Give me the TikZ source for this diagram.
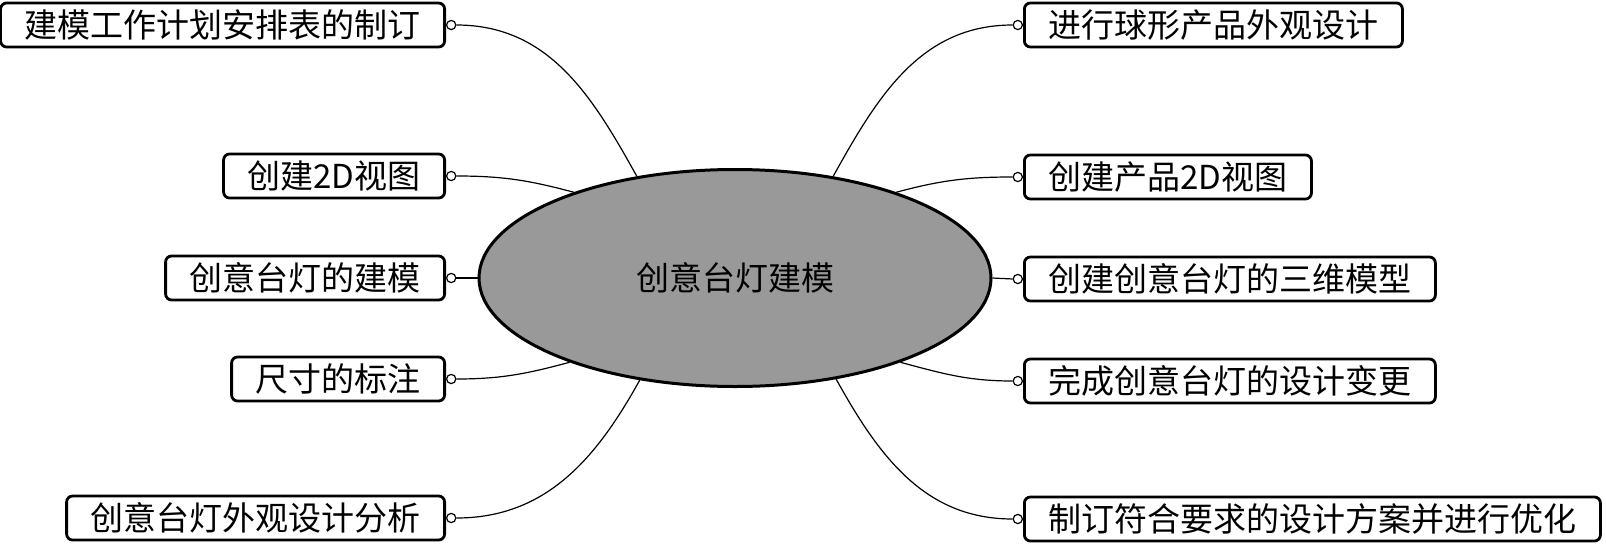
\documentclass[tikz,border=0pt]{standalone}
\usepackage{fontspec}
\newfontfamily\cjk{Noto Sans CJK SC}
\usetikzlibrary{positioning,shapes.geometric}

\begin{document}
\begin{tikzpicture}[
            x=0.5pt, y=0.5pt,
            task/.style={draw, line width=1.4pt, rounded corners=3pt, fill=white,
              minimum height=22pt, inner xsep=12pt, inner ysep=0pt,
              font=\cjk\fontsize{16.5}{18}\selectfont},
            port/.style={circle, draw, fill=white, line width=0.6pt, inner sep=0pt, minimum size=4.6pt},
            hub/.style={ellipse, draw, line width=1.5pt, fill=black!40,
              minimum width=256pt, minimum height=108.5pt,
              font=\cjk\fontsize{16.5}{18}\selectfont},
            link/.style={line width=0.6pt},
          ]
          \useasboundingbox (0,0) rectangle (1606,548);
          \node[hub] (lamp) at (735,270) {创意台灯建模};

          \node[task, anchor=east] (l1) at (446,523) {建模工作计划安排表的制订};
          \node[task, anchor=east] (l2) at (446,372) {创建2D视图};
          \node[task, anchor=east] (l3) at (446,270) {创意台灯的建模};
          \node[task, anchor=east] (l4) at (446,169) {尺寸的标注};
          \node[task, anchor=east] (l5) at (446,30) {创意台灯外观设计分析};

          \node[task, anchor=west] (r1) at (1023,523) {进行球形产品外观设计};
          \node[task, anchor=west] (r2) at (1023,371) {创建产品2D视图};
          \node[task, anchor=west] (r3) at (1023,269) {创建创意台灯的三维模型};
          \node[task, anchor=west] (r4) at (1023,167) {完成创意台灯的设计变更};
          \node[task, anchor=west] (r5) at (1023,29) {制订符合要求的设计方案并进行优化};

          \foreach \i in {1,...,5} {
            \node[port, right=0pt of l\i] (l\i p) {};
            \node[port, left=0pt of r\i] (r\i p) {};
          }

          \draw[link] (l1p.east) to[out=0, in=119] (lamp.134);
          \draw[link] (l2p.east) to[out=0, in=165] (lamp.152);
          \draw[link] (l3p.east) -- (lamp.180);
          \draw[link] (l4p.east) to[out=0, in=195] (lamp.207);
          \draw[link] (l5p.east) to[out=0, in=241] (lamp.227);

          \draw[link] (r1p.west) to[out=180, in=61] (lamp.46);
          \draw[link] (r2p.west) to[out=180, in=15] (lamp.28);
          \draw[link] (r3p.west) -- (lamp.0);
          \draw[link] (r4p.west) to[out=180, in=-15] (lamp.-27);
          \draw[link] (r5p.west) to[out=180, in=-61] (lamp.-45);
        \end{tikzpicture}
\end{document}
